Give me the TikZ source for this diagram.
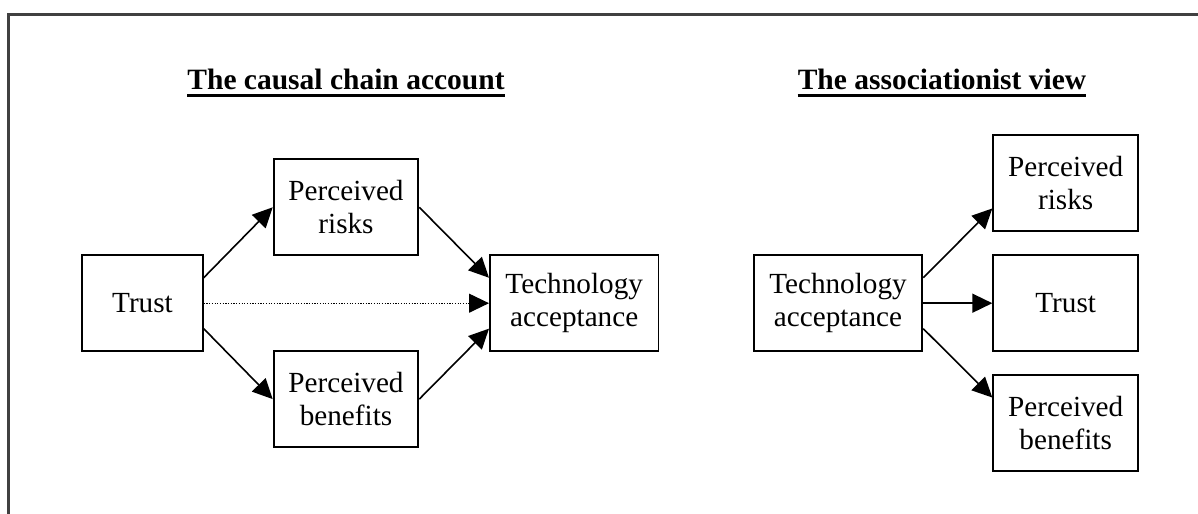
\documentclass[tikz,border=0pt]{standalone}
\usepackage{fontspec}
\setmainfont{Liberation Serif}
\usetikzlibrary{arrows.meta,calc}
\begin{document}
\begin{tikzpicture}[x=1bp,y=-1bp,
  every node/.style={font=\fontsize{29.2bp}{33bp}\selectfont},
  box/.style={draw=black, line width=1.9bp, rectangle, align=center, inner sep=0pt, minimum height=96bp},
  arr/.style={line width=1.6bp, -{Triangle[length=20bp,width=19bp]}},
  dotarr/.style={line width=1.2bp, dash pattern=on 1.2bp off 1.5bp, -{Triangle[length=20bp,width=19bp]}},
  ttl/.style={inner sep=0pt, anchor=base, font=\fontsize{29.5bp}{33bp}\selectfont\bfseries},
  uline/.style={line width=2.8bp}
]
\useasboundingbox (0,0) rectangle (1198,514);
% outer frame (clipped at right and bottom)
\draw[line width=2.2bp, black!75] (8.5,520) -- (8.5,14.5) -- (1205,14.5);

% titles
\node[ttl] (t1) at (346,89.5) {The causal chain account};
\node[ttl] (t2) at (942,89.5) {The associationist view};
\draw[uline] ([yshift=-6bp]t1.base west) -- ([yshift=-6bp]t1.base east);
\draw[uline] ([yshift=-6bp]t2.base west) -- ([yshift=-6bp]t2.base east);

% left: causal chain
\node[box, minimum width=120.5bp] (trustL) at (142.5,303.2) {Trust};
\node[box, minimum width=144.7bp] (risksL) at (346,207.3) {Perceived\\risks};
\node[box, minimum width=144.7bp] (benL) at (346,399.1) {Perceived\\benefits};
\node[box, minimum width=168.5bp] (techL) at (574.2,303.2) {Technology\\acceptance};

\draw[arr] ($(trustL.north east)!0.24!(trustL.south east)$) -- (risksL.west);
\draw[arr] ($(trustL.north east)!0.76!(trustL.south east)$) -- (benL.west);
\draw[arr] (risksL.east) -- ($(techL.north west)!0.24!(techL.south west)$);
\draw[arr] (benL.east) -- ($(techL.north west)!0.76!(techL.south west)$);
\draw[dotarr] (trustL.east) -- (techL.west);

% right: associationist view
\node[box, minimum width=168.6bp] (techR) at (838,303.2) {Technology\\acceptance};
\node[box, minimum width=144.9bp] (risksR) at (1065.7,183) {Perceived\\risks};
\node[box, minimum width=144.9bp] (trustR) at (1065.7,303.2) {Trust};
\node[box, minimum width=144.9bp] (benR) at (1065.7,423) {Perceived\\benefits};

\draw[arr] ($(techR.north east)!0.24!(techR.south east)$) -- ($(risksR.north west)!0.76!(risksR.south west)$);
\draw[arr] (techR.east) -- (trustR.west);
\draw[arr] ($(techR.north east)!0.76!(techR.south east)$) -- ($(benR.north west)!0.24!(benR.south west)$);
\end{tikzpicture}
\end{document}
